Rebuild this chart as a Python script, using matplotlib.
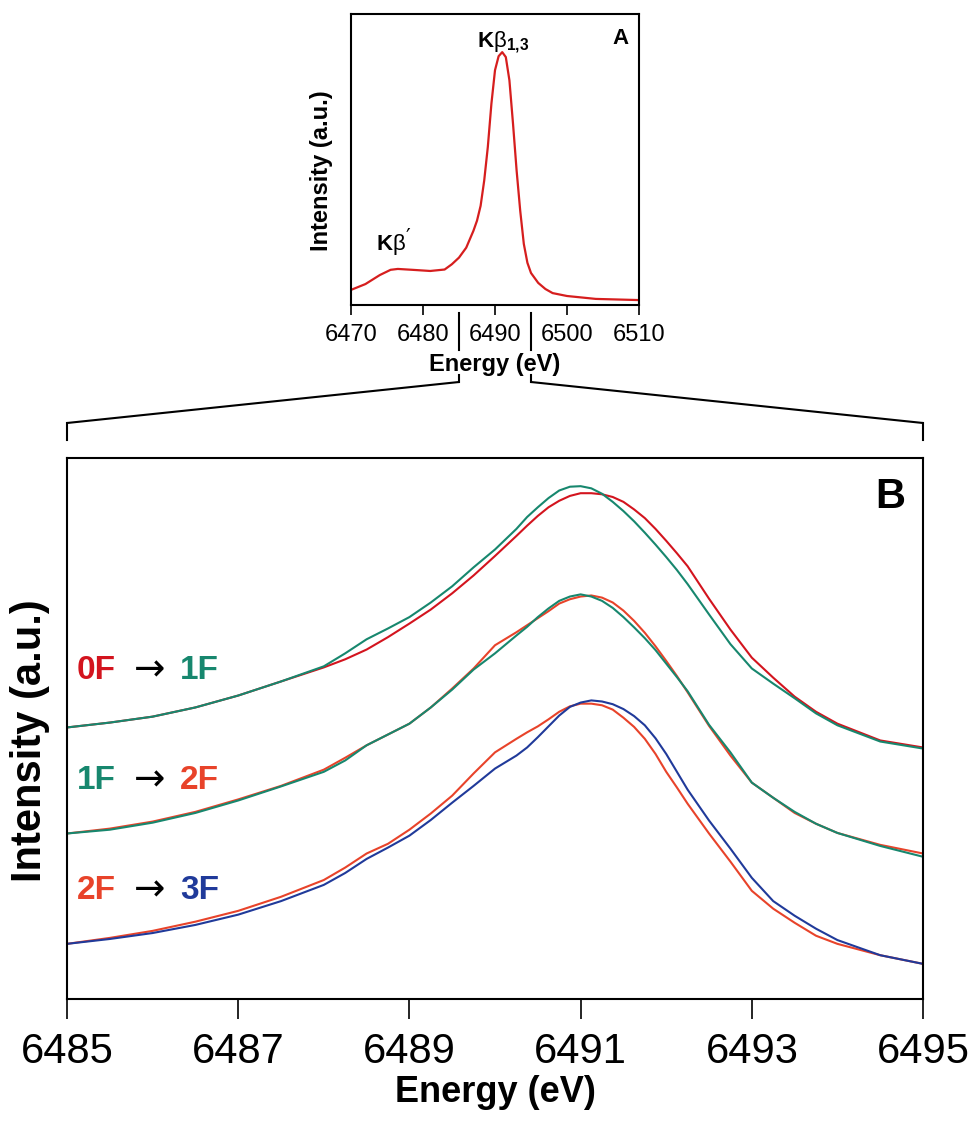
import matplotlib
matplotlib.use("Agg")
import matplotlib.pyplot as plt
from matplotlib.patches import ConnectionPatch
from matplotlib.transforms import blended_transform_factory

plt.rcParams["font.family"] = ["Liberation Sans", "DejaVu Sans"]
plt.rcParams["mathtext.fontset"] = "custom"
plt.rcParams["mathtext.rm"] = "Liberation Sans"
plt.rcParams["mathtext.bf"] = "Liberation Sans:bold"

# Panel A: full K-beta spectrum
energy_a = [6470.0, 6472.0, 6474.0, 6475.5, 6476.5, 6478.5, 6481.0, 6483.0, 6484.0, 6485.0,
            6486.0, 6487.0, 6487.5, 6488.0, 6488.5, 6489.0, 6489.5, 6490.0, 6490.5, 6491.0,
            6491.5, 6492.0, 6492.5, 6493.0, 6493.5, 6494.0, 6494.5, 6495.0, 6496.0, 6497.0,
            6498.0, 6500.0, 6504.0, 6510.0]
intensity_a = [0.052, 0.072, 0.103, 0.121, 0.124, 0.121, 0.117, 0.122, 0.140, 0.163,
               0.197, 0.255, 0.290, 0.341, 0.428, 0.543, 0.692, 0.807, 0.855, 0.869,
               0.852, 0.772, 0.623, 0.462, 0.324, 0.210, 0.145, 0.110, 0.076, 0.055,
               0.041, 0.031, 0.021, 0.017]

# Panel B: K-beta 1,3 region, offset pairs of spectra
energy_b = [6485.0, 6485.5, 6486.0, 6486.5, 6487.0, 6487.5, 6488.0, 6488.25, 6488.5, 6488.75,
            6489.0, 6489.25, 6489.5, 6489.75, 6490.0, 6490.25, 6490.375, 6490.5, 6490.625, 6490.75,
            6490.875, 6491.0, 6491.125, 6491.25, 6491.375, 6491.5, 6491.625, 6491.75, 6491.875, 6492.0,
            6492.125, 6492.25, 6492.5, 6492.75, 6493.0, 6493.25, 6493.5, 6493.75, 6494.0, 6494.5,
            6495.0]

# 0F -> 1F
pair1_0f = [0.502, 0.511, 0.522, 0.539, 0.561, 0.587, 0.613, 0.628, 0.646, 0.669,
            0.694, 0.720, 0.750, 0.783, 0.819, 0.856, 0.875, 0.893, 0.909, 0.921,
            0.930, 0.935, 0.935, 0.933, 0.928, 0.919, 0.905, 0.889, 0.869, 0.847,
            0.824, 0.800, 0.740, 0.683, 0.631, 0.594, 0.559, 0.531, 0.509, 0.478,
            0.465]
pair1_1f = [0.502, 0.511, 0.522, 0.539, 0.561, 0.587, 0.615, 0.639, 0.665, 0.685,
            0.706, 0.733, 0.763, 0.798, 0.831, 0.869, 0.891, 0.909, 0.926, 0.940,
            0.947, 0.948, 0.944, 0.934, 0.919, 0.902, 0.883, 0.862, 0.840, 0.817,
            0.793, 0.767, 0.711, 0.656, 0.611, 0.583, 0.556, 0.528, 0.506, 0.476,
            0.463]

# 1F -> 2F
pair2_1f = [0.306, 0.313, 0.326, 0.344, 0.367, 0.393, 0.420, 0.441, 0.469, 0.489,
            0.509, 0.539, 0.572, 0.609, 0.639, 0.672, 0.688, 0.706, 0.722, 0.736,
            0.744, 0.748, 0.744, 0.736, 0.723, 0.706, 0.687, 0.667, 0.645, 0.620,
            0.595, 0.569, 0.507, 0.456, 0.400, 0.372, 0.346, 0.324, 0.307, 0.283,
            0.263]
pair2_2f = [0.306, 0.315, 0.328, 0.346, 0.369, 0.394, 0.424, 0.446, 0.469, 0.489,
            0.509, 0.539, 0.574, 0.611, 0.654, 0.678, 0.691, 0.704, 0.717, 0.731,
            0.739, 0.744, 0.746, 0.742, 0.733, 0.718, 0.699, 0.677, 0.652, 0.625,
            0.597, 0.567, 0.505, 0.450, 0.400, 0.372, 0.344, 0.324, 0.307, 0.285,
            0.269]

# 2F -> 3F
pair3_2f = [0.102, 0.113, 0.126, 0.143, 0.163, 0.189, 0.220, 0.243, 0.269, 0.287,
            0.313, 0.343, 0.376, 0.417, 0.456, 0.481, 0.493, 0.504, 0.517, 0.531,
            0.541, 0.546, 0.546, 0.543, 0.535, 0.520, 0.503, 0.481, 0.453, 0.420,
            0.391, 0.361, 0.306, 0.254, 0.200, 0.167, 0.141, 0.117, 0.102, 0.081,
            0.065]
pair3_3f = [0.102, 0.111, 0.122, 0.137, 0.156, 0.181, 0.211, 0.233, 0.259, 0.280,
            0.302, 0.331, 0.363, 0.394, 0.426, 0.450, 0.465, 0.484, 0.504, 0.524,
            0.540, 0.548, 0.552, 0.550, 0.545, 0.536, 0.523, 0.506, 0.482, 0.453,
            0.420, 0.387, 0.330, 0.278, 0.224, 0.181, 0.154, 0.130, 0.109, 0.081,
            0.065]

ticks_a = [6470, 6480, 6490, 6500, 6510]
ticks_b = [6485, 6487, 6489, 6491, 6493, 6495]
zoom_range = (6485, 6495)

red = "#d3141e"
green = "#17876e"
orange = "#e8432a"
blue = "#203a9a"

fig = plt.figure(figsize=(9.71, 11.21), dpi=100)
axA = fig.add_axes([0.3615, 0.7279, 0.2966, 0.2596])
axB = fig.add_axes([0.0690, 0.1088, 0.8816, 0.4826])

for ax in (axA, axB):
    for side in ax.spines.values():
        side.set_linewidth(1.5)
    ax.set_yticks([])
    ax.set_ylim(0, 1)

# ---- panel A ----
axA.plot(energy_a, intensity_a, color="#d61e1e", lw=1.6)
axA.set_xlim(6470, 6510)
axA.set_xticks(ticks_a)
axA.tick_params(axis="x", direction="out", length=7.5, width=1.2, labelsize=17, pad=6)
axA.set_xlabel("Energy (eV)", fontsize=17, fontweight="bold")
axA.xaxis.set_label_coords(0.5, -0.165)
axA.set_ylabel("Intensity (a.u.)", fontsize=17, fontweight="bold")
axA.yaxis.set_label_coords(-0.062, 0.46)
axA.text(6491.1, 0.903, r"$\mathbf{K}\mathrm{\beta}_{\mathbf{1{,}3}}$", fontsize=16,
         ha="center", va="center")
axA.text(6475.6, 0.207, r"$\mathbf{K}\mathrm{\beta}$", fontsize=16,
         ha="center", va="center")
axA.text(6477.9, 0.232, "\u2032", fontsize=15, family="DejaVu Sans",
         ha="center", va="center")
axA.text(0.934, 0.917, "A", transform=axA.transAxes, fontsize=16, fontweight="bold",
         ha="center", va="center")

# ---- panel B ----
axB.plot(energy_b, pair1_0f, color=red, lw=1.5)
axB.plot(energy_b, pair1_1f, color=green, lw=1.5)
axB.plot(energy_b, pair2_2f, color=orange, lw=1.5)
axB.plot(energy_b, pair2_1f, color=green, lw=1.5)
axB.plot(energy_b, pair3_2f, color=orange, lw=1.5)
axB.plot(energy_b, pair3_3f, color=blue, lw=1.5)
axB.set_xlim(*zoom_range)
axB.set_xticks(ticks_b)
axB.tick_params(axis="x", direction="out", length=14.5, width=1.2, labelsize=30, pad=9)
axB.set_xlabel("Energy (eV)", fontsize=26, fontweight="bold")
axB.xaxis.set_label_coords(0.5, -0.14)
axB.set_ylabel("Intensity (a.u.)", fontsize=30, fontweight="bold")
axB.yaxis.set_label_coords(-0.02, 0.478)
axB.text(0.9615, 0.928, "B", transform=axB.transAxes, fontsize=30, fontweight="bold",
         ha="center", va="center")

# transition labels, one per pair of traces
rows = [(0.608, "0F", red, "1F", green),
        (0.404, "1F", green, "2F", orange),
        (0.201, "2F", orange, "3F", blue)]
for y, left, c_left, right, c_right in rows:
    axB.text(0.0117, y, left, color=c_left, transform=axB.transAxes, fontsize=24,
             fontweight="bold", ha="left", va="center")
    axB.text(0.0968, y, "\u2192", color="black", transform=axB.transAxes, fontsize=27,
             family="DejaVu Sans", ha="center", va="center")
    axB.text(0.132, y, right, color=c_right, transform=axB.transAxes, fontsize=24,
             fontweight="bold", ha="left", va="center")

# bracket showing which part of A is expanded in B
def fig_y(px):
    return 1 - px / 1121

trans_a = blended_transform_factory(axA.transData, fig.transFigure)
trans_b = blended_transform_factory(axB.transData, fig.transFigure)
for e in zoom_range:
    axA.plot([e, e], [fig_y(313), fig_y(350)], transform=trans_a, color="black",
             lw=1.5, clip_on=False)
    axA.plot([e, e], [fig_y(375), fig_y(382)], transform=trans_a, color="black",
             lw=1.5, clip_on=False)
    axB.plot([e, e], [fig_y(423), fig_y(440)], transform=trans_b, color="black",
             lw=1.5, clip_on=False)
    fig.add_artist(ConnectionPatch(xyA=(e, fig_y(382)), coordsA=trans_a,
                                   xyB=(e, fig_y(423)), coordsB=trans_b,
                                   color="black", lw=1.5))

fig.savefig("out.png", dpi=100)
